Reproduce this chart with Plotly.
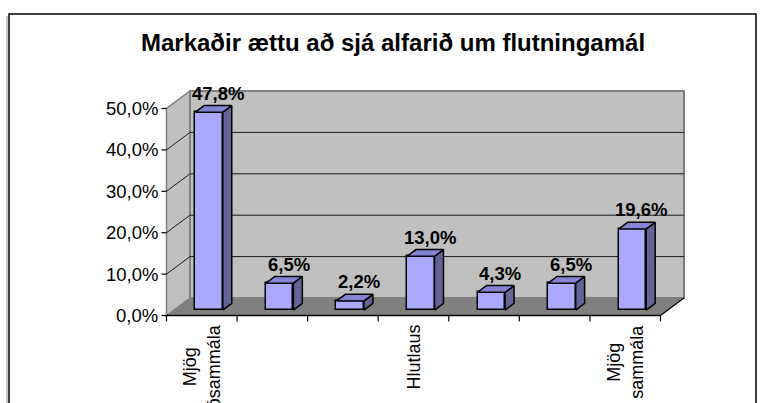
import plotly.graph_objects as go

# ---------------- data ----------------
title_text = "Markaðir ættu að sjá alfarið um flutningamál"
categories = ["Mjög ósammála", "", "", "Hlutlaus", "", "", "Mjög sammála"]
values = [47.8, 6.5, 2.2, 13.0, 4.3, 6.5, 19.6]
value_labels = ["47,8%", "6,5%", "2,2%", "13,0%", "4,3%", "6,5%", "19,6%"]
y_ticks = [0, 10, 20, 30, 40, 50]
y_tick_labels = ["0,0%", "10,0%", "20,0%", "30,0%", "40,0%", "50,0%"]

# ---------------- geometry / style ----------------
W, H = 766, 403
X0PX, SLOT_PX = 166.5, 70.57      # front-left corner px, px per category
Y0PX, UNIT_PX = 315.5, 4.14       # floor px, px per percent
DX = 23.5 / SLOT_PX               # 3D depth offset in x units
DY = 17.5 / UNIT_PX               # 3D depth offset in y units
F0, BD = 0.31, 0.38               # bar front depth fraction, bar depth fraction
BAR_W = 0.39
FONT = "Arial, Liberation Sans, sans-serif"
C_FRONT, C_SIDE, C_TOP = "#a9a9ff", "#646496", "#8484d4"
C_WALL, C_FLOOR, C_EDGE = "#c0c0c0", "#808080", "#808080"

n = len(values)
xs = list(range(1, n + 1))
xl, xr = 0.5, n + 0.5
ymax = max(y_ticks)

x_range = [0.5 - X0PX / SLOT_PX, 0.5 + (W - X0PX) / SLOT_PX]
y_range = [-(H - Y0PX) / UNIT_PX, Y0PX / UNIT_PX]

fig = go.Figure()
shapes = []

def path(pts):
    return "M " + " L ".join(f"{x},{y}" for x, y in pts) + " Z"

# floor
shapes.append(dict(type="path", xref="x", yref="y", layer="below",
                   path=path([(xl, 0), (xr, 0), (xr + DX, DY), (xl + DX, DY)]),
                   fillcolor=C_FLOOR, line=dict(width=0)))
# left wall
shapes.append(dict(type="path", xref="x", yref="y", layer="below",
                   path=path([(xl, 0), (xl, ymax), (xl + DX, ymax + DY), (xl + DX, DY)]),
                   fillcolor=C_WALL, line=dict(color=C_EDGE, width=1.5)))
# back wall
shapes.append(dict(type="rect", xref="x", yref="y", layer="below",
                   x0=xl + DX, x1=xr + DX, y0=DY, y1=ymax + DY,
                   fillcolor=C_WALL, line=dict(color=C_EDGE, width=2)))
# gridlines
for t in y_ticks:
    if 0 < t < ymax:
        shapes.append(dict(type="line", xref="x", yref="y", layer="below",
                           x0=xl + DX, x1=xr + DX, y0=t + DY, y1=t + DY,
                           line=dict(color="#1a1a1a", width=1)))
        shapes.append(dict(type="line", xref="x", yref="y", layer="below",
                           x0=xl, x1=xl + DX, y0=t, y1=t + DY,
                           line=dict(color="#1a1a1a", width=1)))
# floor right edge + front axis line
shapes.append(dict(type="line", xref="x", yref="y", x0=xr, x1=xr + DX, y0=0, y1=DY,
                   line=dict(color="black", width=1.2)))
shapes.append(dict(type="line", xref="x", yref="y", x0=xl, x1=xr, y0=0, y1=0,
                   line=dict(color="black", width=1.5)))
# x ticks
for k in range(n + 1):
    shapes.append(dict(type="line", xref="x", yref="y", ysizemode="pixel", yanchor=0,
                       x0=xl + k, x1=xl + k, y0=-6, y1=0,
                       line=dict(color="black", width=1.2)))
# y ticks
for t in y_ticks:
    shapes.append(dict(type="line", xref="x", yref="y", xsizemode="pixel", xanchor=xl,
                       x0=-5, x1=0, y0=t, y1=t,
                       line=dict(color="black", width=1.2)))
# outer border (with faint shadow on the left)
shapes.append(dict(type="line", xref="paper", yref="paper",
                   x0=7 / W, x1=7 / W, y0=-0.05, y1=1 - 16 / H,
                   line=dict(color="#b0b0b0", width=1.5)))
shapes.append(dict(type="rect", xref="paper", yref="paper",
                   x0=9 / W, x1=756 / W, y0=-0.05, y1=1 - 14 / H,
                   line=dict(color="black", width=1.5), fillcolor="rgba(0,0,0,0)"))

# bars: front faces
base = F0 * DY
bar_x = [x + F0 * DX for x in xs]
fig.add_trace(go.Bar(x=bar_x, y=values, base=[base] * n, width=BAR_W,
                     marker=dict(color=C_FRONT, line=dict(color="black", width=1.5)),
                     hoverinfo="skip", showlegend=False))

# side and top faces
side_x, side_y, top_x, top_y = [], [], [], []
for bx, v in zip(bar_x, values):
    l, r = bx - BAR_W / 2, bx + BAR_W / 2
    b, tp = base, base + v
    side_x += [r, r + BD * DX, r + BD * DX, r, r, None]
    side_y += [b, b + BD * DY, tp + BD * DY, tp, b, None]
    top_x += [l, r, r + BD * DX, l + BD * DX, l, None]
    top_y += [tp, tp, tp + BD * DY, tp + BD * DY, tp, None]
fig.add_trace(go.Scatter(x=side_x, y=side_y, mode="lines", fill="toself",
                         fillcolor=C_SIDE, line=dict(color="black", width=1.5),
                         hoverinfo="skip", showlegend=False))
fig.add_trace(go.Scatter(x=top_x, y=top_y, mode="lines", fill="toself",
                         fillcolor=C_TOP, line=dict(color="black", width=1.5),
                         hoverinfo="skip", showlegend=False))

annotations = []
# value labels
for bx, v, lab in zip(bar_x, values, value_labels):
    annotations.append(dict(x=bx + BD * DX, y=base + v + BD * DY, xref="x", yref="y",
                            text=f"<b>{lab}</b>", showarrow=False, yanchor="bottom",
                            xanchor="center", yshift=0,
                            font=dict(family=FONT, size=18.5, color="black")))
# y tick labels
for t, lab in zip(y_ticks, y_tick_labels):
    annotations.append(dict(x=xl, y=t, xref="x", yref="y", text=lab, showarrow=False,
                            xanchor="right", yanchor="middle", xshift=-7,
                            font=dict(family=FONT, size=18.5, color="black")))
# category labels
for x, lab in zip(xs, categories):
    if lab:
        annotations.append(dict(x=x, y=0, xref="x", yref="y",
                                text=lab.replace(" ", "<br>"), showarrow=False,
                                textangle=-90, xanchor="center", yanchor="top",
                                yshift=-7, align="center",
                                font=dict(family=FONT, size=18, color="black")))

fig.update_layout(
    width=W, height=H, autosize=False,
    margin=dict(l=0, r=0, t=0, b=0, pad=0),
    paper_bgcolor="white", plot_bgcolor="white",
    title=dict(text=f"<b>{title_text}</b>", x=393 / W, y=1 - 43 / H,
               xref="paper", yref="container", xanchor="center", yanchor="middle",
               font=dict(family=FONT, size=24, color="black")),
    xaxis=dict(range=x_range, visible=False, fixedrange=True),
    yaxis=dict(range=y_range, visible=False, fixedrange=True),
    shapes=shapes, annotations=annotations, showlegend=False, bargap=0,
)

fig.write_html("out.html", config={"displayModeBar": False},
               post_script="document.body.style.margin='0';document.body.style.padding='0';")
